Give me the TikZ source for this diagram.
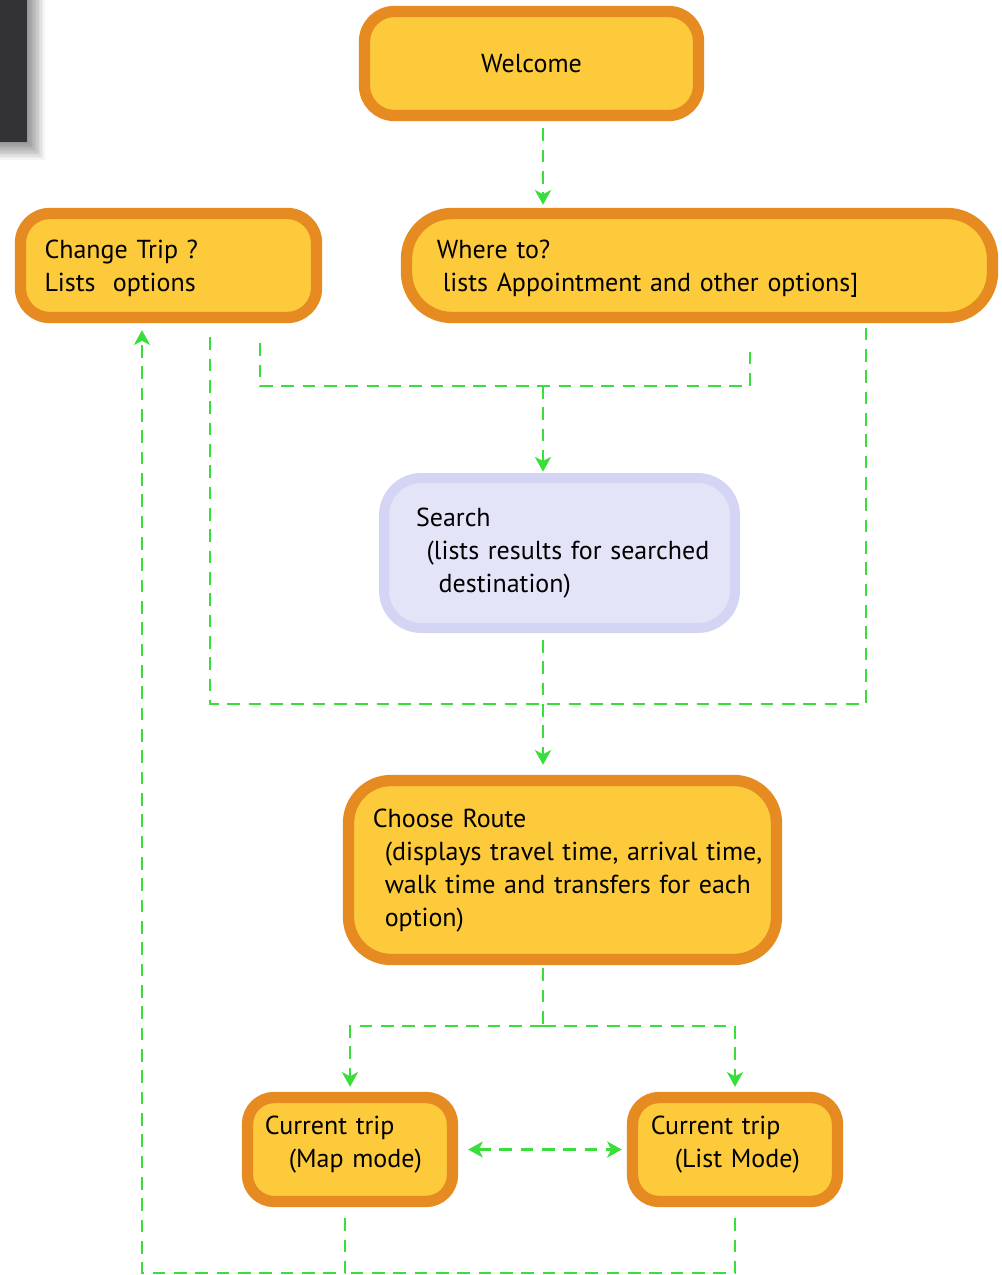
\documentclass[tikz,border=0pt]{standalone}
\usepackage{fontspec}
\setmainfont{PT Sans}
\usetikzlibrary{arrows.meta}

\definecolor{boxfill}{RGB}{253,202,60}
\definecolor{boxedge}{RGB}{229,139,34}
\definecolor{searchfill}{RGB}{228,228,248}
\definecolor{searchedge}{RGB}{212,212,244}
\definecolor{flowgreen}{RGB}{58,222,58}
\definecolor{panel}{RGB}{51,51,54}

% lines of a screen, kept unbroken (optional: vertical nudge)
\newcommand{\screenlines}[2][0pt]{\raisebox{#1}[\height][\depth]{\begin{tabular}{@{}l@{}}#2\end{tabular}}}

\begin{document}
\begin{tikzpicture}[
    x=0.75pt,
    y=-0.75pt,
    screen/.style={
        rectangle,
        draw=boxedge,
        fill=boxfill,
        line width=8.5pt,
        inner ysep=0pt,
        minimum height=78pt,
        align=left,
        font=\fontsize{19.5pt}{24.75pt}\selectfont
    },
    searchscreen/.style={
        screen,
        draw=searchedge,
        fill=searchfill,
        line width=7.5pt
    },
    flow/.style={
        draw=flowgreen,
        line width=1.7pt,
        dash pattern=on 9.5pt off 6.5pt
    },
    flowarrow/.style={
        flow,
        -{Stealth[length=11pt,width=12pt,inset=3pt]}
    },
    flowboth/.style={
        flow,
        {Stealth[length=11pt,width=12pt,inset=3pt]}-{Stealth[length=11pt,width=12pt,inset=3pt]}
    }
]
\useasboundingbox (0,0) rectangle (1002,1275);

% dark panel with its shadow
\foreach \s in {1,...,14}
    \fill[black,opacity=0.04] (0,0) rectangle (25+1.4*\s,140+1.4*\s);
\fill[panel] (0,0) rectangle (27,142);

% screens
\node[screen,align=center,minimum width=250.5pt,rounded corners=22.5pt] (welcome) at (531.5,63.5) {Welcome};

\node[screen,minimum width=222pt,inner xsep=18pt,text width=186pt,rounded corners=22pt] (change) at (168.5,265.5)
    {\screenlines[-2.5pt]{Change Trip ?\\Lists~ options}};

\node[screen,minimum width=439.5pt,inner xsep=22.7pt,text width=394pt,rounded corners=34pt] (whereto) at (699.5,265.5)
    {\screenlines[-2.5pt]{Where to?\\\hspace*{4.5pt}lists Appointment and other options]}};

\node[searchscreen,minimum width=263.25pt,minimum height=112.5pt,inner xsep=24pt,text width=215.25pt,rounded corners=28pt] (search) at (559.5,553)
    {\screenlines{Search\\\hspace*{8pt}(lists results for searched\\\hspace*{17pt}destination)}};

\node[screen,minimum width=321pt,minimum height=134.25pt,inner xsep=18.2pt,text width=284.6pt,rounded corners=32pt] (route) at (562.5,870)
    {\screenlines{Choose Route\\\hspace*{9pt}(displays travel time, arrival time,\\\hspace*{9pt}walk time and transfers for each\\\hspace*{9pt}option)}};

\node[screen,minimum width=153.75pt,inner xsep=13pt,text width=127.75pt,rounded corners=20pt] (mapmode) at (350,1149.5)
    {\screenlines[3.5pt]{Current trip\\\hspace*{18pt}(Map mode)}};

\node[screen,minimum width=153.75pt,inner xsep=13.7pt,text width=126.35pt,rounded corners=20pt] (listmode) at (735,1149.5)
    {\screenlines[3.5pt]{Current trip\\\hspace*{18pt}(List Mode)}};

% joints of the flow lines
\coordinate (spine) at (543,0);
\coordinate (join1) at (543,386);
\coordinate (join2) at (543,704);
\coordinate (join3) at (543,1026);
\coordinate (ret) at (142,1273);
\coordinate (mapdrop) at ([shift={(-5,11)}]mapmode.south);

% flow
\draw[flowarrow,shorten <=5.25pt,shorten >=2.25pt] (welcome.south -| spine) -- (whereto.north -| spine);

\draw[flow] ([shift={(91.5,20)}]change.south) |- (join1) -| ([shift={(50.5,20)}]whereto.south);
\draw[flowarrow,shorten >=1pt] (join1) -- (search.north -| spine);

\draw[flow] ([shift={(41.5,14)}]change.south) |- (join2) -| ([shift={(166.5,4)}]whereto.south);
\draw[flowarrow,shorten <=5.25pt,shorten >=7.5pt] (search.south -| spine) -- (route.north -| spine);

\draw[flow,shorten <=2.25pt] (route.south -| spine) -- (join3);
\draw[flowarrow,shorten >=3.75pt] (join3) -| (mapmode.north);
\draw[flowarrow,shorten >=3.75pt] (join3) -| (listmode.north);

\draw[flowboth,shorten <=7.5pt,shorten >=3.75pt] (mapmode.east) -- (listmode.west);

\draw[flowarrow] (mapdrop) |- (ret) -- ([shift={(-26.5,7)}]change.south);
\draw[flow] ([shift={(0,11)}]listmode.south) |- (mapdrop |- ret);

\end{tikzpicture}
\end{document}
